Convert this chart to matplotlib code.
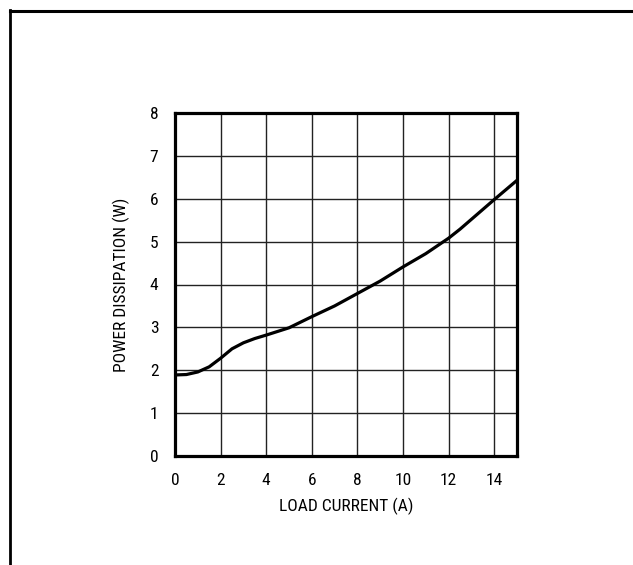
import matplotlib
matplotlib.use("Agg")
import matplotlib.pyplot as plt
from matplotlib.lines import Line2D

current = [0, 0.5, 1, 1.5, 2, 2.5, 3, 3.5, 4, 5, 6, 7, 8, 9, 10, 11, 12, 12.5, 13, 13.5, 14, 15]
power = [1.89, 1.90, 1.96, 2.08, 2.28, 2.50, 2.64, 2.74, 2.82, 2.99, 3.25, 3.50, 3.79,
         4.08, 4.41, 4.72, 5.08, 5.29, 5.52, 5.75, 5.98, 6.43]
xticks = [0, 2, 4, 6, 8, 10, 12, 14]
yticks = [0, 1, 2, 3, 4, 5, 6, 7, 8]
xlabel = "LOAD CURRENT (A)"
ylabel = "POWER DISSIPATION (W)"

plt.rcParams['font.family'] = ['Roboto Condensed', 'DejaVu Sans']

W, H = 633, 565
fig = plt.figure(figsize=(W / 100, H / 100), dpi=100)
ax = fig.add_axes([175 / W, (H - 456) / H, 342 / W, 343 / H])

ax.plot(current, power, color="black", lw=2.3, solid_capstyle="butt", zorder=3)
ax.set_xlim(0, 15)
ax.set_ylim(0, 8)
ax.set_xticks(xticks)
ax.set_yticks(yticks)
ax.grid(True, color="#222222", lw=1.0)
ax.tick_params(length=0, labelsize=12.5, pad=12)
for s in ax.spines.values():
    s.set_linewidth(2.3)
    s.set_color("black")
ax.set_xlabel(xlabel, fontsize=12.5, labelpad=7)
ax.set_ylabel(ylabel, fontsize=12.5, labelpad=14)

# outer frame (left and top edges)
fig.add_artist(Line2D([9.5, 9.5], [0, H - 9.5], transform=None, color="black", lw=2.0))
fig.add_artist(Line2D([9.5, W], [H - 10.5, H - 10.5], transform=None, color="black", lw=2.2))

fig.savefig("out.png", dpi=100)
